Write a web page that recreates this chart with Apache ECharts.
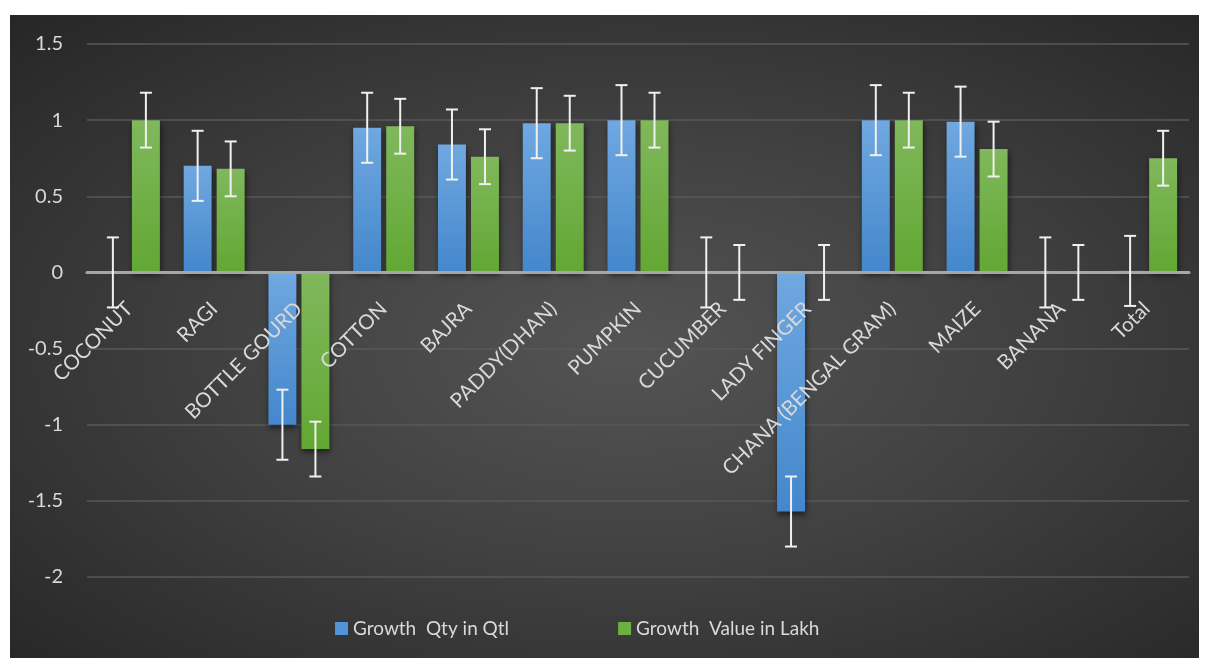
<!DOCTYPE html>
<html>
<head>
<meta charset="utf-8">
<script src="https://cdn.jsdelivr.net/npm/echarts@6/dist/echarts.min.js"></script>
<style>
  html, body { margin: 0; padding: 0; background: #ffffff; width: 1206px; height: 658px; overflow: hidden; }
  #chart { position: absolute; left: 10px; top: 15px; width: 1189px; height: 643px;
    background: radial-gradient(ellipse at 52% 52%, #545454 0%, #414141 45%, #262626 100%); }
</style>
</head>
<body>
<div id="chart"></div>
<script>
const categories = ['COCONUT', 'RAGI', 'BOTTLE GOURD', 'COTTON', 'BAJRA', 'PADDY(DHAN)', 'PUMPKIN',
  'CUCUMBER', 'LADY FINGER', 'CHANA (BENGAL GRAM)', 'MAIZE', 'BANANA', 'Total'];
const qtyGrowth   = [0, 0.70, -1.00, 0.95, 0.84, 0.98, 1.00, 0, -1.57, 1.00, 0.99, 0, 0.01];
const valueGrowth = [1.00, 0.68, -1.16, 0.96, 0.76, 0.98, 1.00, 0, 0, 1.00, 0.81, 0, 0.75];
const qtyError    = [0.23, 0.23, 0.23, 0.23, 0.23, 0.23, 0.23, 0.23, 0.23, 0.23, 0.23, 0.23, 0.23];
const valueError  = [0.18, 0.18, 0.18, 0.18, 0.18, 0.18, 0.18, 0.18, 0.18, 0.18, 0.18, 0.18, 0.18];
const seriesNames = ['Growth  Qty in Qtl', 'Growth  Value in Lakh'];
const yTicks = { min: -2, max: 1.5, interval: 0.5 };

const BAR_FRAC = 0.33, GAP_FRAC = 0.18;
const FONT = 'Lato, "Open Sans", sans-serif';
const GRID = { left: 77, right: 10, top: 29, bottom: 81 };
const CHART_H = 643;
const plotH = CHART_H - GRID.top - GRID.bottom;
// distance of the value-0 line above the plot bottom, from the y scale
const zeroFromBottom = (0 - yTicks.min) / (yTicks.max - yTicks.min) * plotH;

function errorRender(sign) {
  return function (params, api) {
    const idx = api.value(0), val = api.value(1), err = api.value(2);
    const bw = api.size([1, 0])[0];
    const barW = bw * BAR_FRAC;
    const off = sign * (barW + barW * GAP_FRAC) / 2;
    const c = api.coord([idx, val]);
    const top = api.coord([idx, val + err]);
    const bot = api.coord([idx, val - err]);
    const x = c[0] + off;
    const cap = 6;
    const style = { stroke: '#f0f0f0', lineWidth: 2, fill: null };
    return {
      type: 'group',
      children: [
        { type: 'line', shape: { x1: x, y1: top[1], x2: x, y2: bot[1] }, style },
        { type: 'line', shape: { x1: x - cap, y1: top[1], x2: x + cap, y2: top[1] }, style },
        { type: 'line', shape: { x1: x - cap, y1: bot[1], x2: x + cap, y2: bot[1] }, style }
      ]
    };
  };
}

function grad(top, bottom) {
  return { type: 'linear', x: 0, y: 0, x2: 0, y2: 1, colorStops: [{ offset: 0, color: top }, { offset: 1, color: bottom }] };
}

const chart = echarts.init(document.getElementById('chart'), null, { renderer: 'canvas' });
chart.setOption({
  backgroundColor: 'transparent',
  animation: false,
  textStyle: { fontFamily: FONT },
  grid: { left: GRID.left, right: GRID.right, top: GRID.top, bottom: GRID.bottom, containLabel: false, outerBoundsMode: 'none' },
  legend: {
    top: 599, left: 320,
    itemWidth: 13, itemHeight: 13, itemGap: 109,
    icon: 'rect',
    data: [
      { name: seriesNames[0], itemStyle: { color: '#4f93d8' } },
      { name: seriesNames[1], itemStyle: { color: '#6cb041' } }
    ],
    textStyle: { color: '#d9d9d9', fontSize: 19, fontFamily: FONT }
  },
  xAxis: {
    type: 'category',
    data: categories,
    position: 'bottom',
    offset: -zeroFromBottom,
    z: 3,
    axisLine: { onZero: false, lineStyle: { color: '#a6a6a6', width: 3 } },
    axisTick: { show: false },
    axisLabel: { rotate: 45, interval: 0, color: '#d9d9d9', fontSize: 20.5, margin: 33, fontFamily: FONT }
  },
  yAxis: {
    type: 'value',
    min: yTicks.min, max: yTicks.max, interval: yTicks.interval,
    axisLine: { show: false },
    axisTick: { show: false },
    axisLabel: { color: '#d9d9d9', fontSize: 20, margin: 24, fontFamily: FONT },
    splitLine: { lineStyle: { color: '#595959', width: 1.5 } }
  },
  series: [
    {
      name: seriesNames[0], type: 'bar', data: qtyGrowth,
      barWidth: (BAR_FRAC * 100) + '%', barGap: (GAP_FRAC * 100) + '%',
      itemStyle: { color: grad('#70a8e0', '#4487cc'), shadowBlur: 6, shadowColor: 'rgba(0,0,0,0.55)', shadowOffsetX: 1, shadowOffsetY: 3 },
      z: 2
    },
    {
      name: seriesNames[1], type: 'bar', data: valueGrowth,
      barWidth: (BAR_FRAC * 100) + '%', barGap: (GAP_FRAC * 100) + '%',
      itemStyle: { color: grad('#80b85c', '#62a733'), shadowBlur: 6, shadowColor: 'rgba(0,0,0,0.55)', shadowOffsetX: 1, shadowOffsetY: 3 },
      z: 2
    },
    {
      name: 'errQty', type: 'custom', z: 5, silent: true,
      renderItem: errorRender(-1),
      encode: { x: 0, y: 1 },
      data: qtyGrowth.map((v, i) => [i, v, qtyError[i]])
    },
    {
      name: 'errVal', type: 'custom', z: 5, silent: true,
      renderItem: errorRender(1),
      encode: { x: 0, y: 1 },
      data: valueGrowth.map((v, i) => [i, v, valueError[i]])
    }
  ]
});
</script>
</body>
</html>
